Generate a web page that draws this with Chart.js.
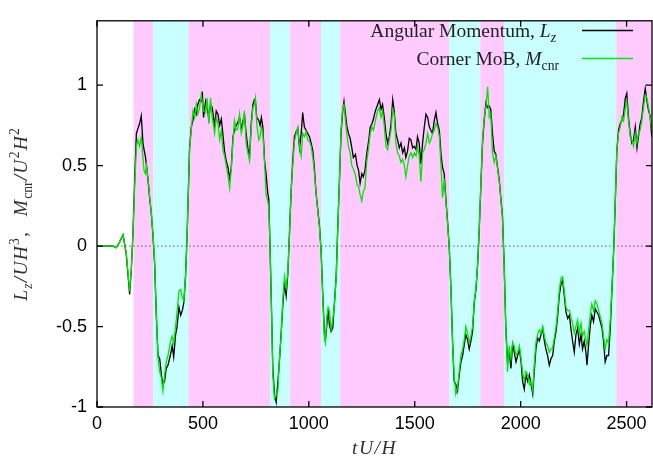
<!DOCTYPE html>
<html>
<head>
<meta charset="utf-8">
<script src="https://cdn.jsdelivr.net/npm/chart.js@4"></script>
<style>
  html, body { margin: 0; padding: 0; background: #fff; }
</style>
</head>
<body>
<canvas id="chart" width="653" height="462"></canvas>
<script>
// time axis (tU/H), shared by both series
const time = [0, 40, 75, 91, 105, 123, 138, 154, 162, 170, 178, 186, 193, 201, 209, 217, 222, 228, 233, 241, 249, 256, 264, 272, 280, 288, 296, 304, 311, 319, 327, 335, 346, 355, 362, 371, 377, 387, 395, 403, 410, 418, 425, 431, 437, 445, 453, 461, 469, 476, 484, 492, 497, 503, 513, 520, 528, 536, 544, 555, 563, 571, 579, 587, 594, 602, 610, 618, 626, 634, 642, 649, 657, 665, 673, 681, 688, 696, 704, 712, 720, 728, 736, 743, 748, 754, 764, 770, 776, 783, 791, 798, 806, 811, 817, 824, 830, 838, 846, 854, 861, 869, 877, 885, 893, 901, 909, 916, 924, 932, 940, 948, 956, 964, 971, 979, 987, 995, 1003, 1011, 1019, 1026, 1034, 1042, 1050, 1058, 1066, 1074, 1078, 1085, 1091, 1097, 1105, 1113, 1121, 1129, 1136, 1144, 1152, 1160, 1166, 1173, 1179, 1187, 1195, 1203, 1210, 1220, 1228, 1235, 1242, 1250, 1257, 1265, 1273, 1283, 1290, 1298, 1305, 1314, 1325, 1333, 1341, 1348, 1356, 1364, 1372, 1380, 1388, 1396, 1403, 1411, 1419, 1427, 1435, 1443, 1451, 1458, 1466, 1474, 1482, 1490, 1498, 1506, 1513, 1521, 1529, 1537, 1545, 1553, 1561, 1569, 1576, 1584, 1592, 1600, 1608, 1616, 1624, 1631, 1639, 1647, 1655, 1663, 1671, 1679, 1686, 1694, 1702, 1710, 1718, 1726, 1734, 1741, 1749, 1757, 1765, 1773, 1781, 1789, 1797, 1804, 1812, 1820, 1828, 1836, 1844, 1852, 1859, 1867, 1875, 1883, 1891, 1899, 1907, 1914, 1922, 1930, 1938, 1946, 1954, 1962, 1970, 1978, 1986, 1994, 2002, 2009, 2017, 2025, 2033, 2041, 2049, 2057, 2064, 2072, 2080, 2088, 2096, 2104, 2112, 2119, 2127, 2135, 2143, 2151, 2159, 2167, 2175, 2182, 2190, 2198, 2206, 2214, 2222, 2230, 2237, 2245, 2253, 2261, 2269, 2277, 2285, 2292, 2300, 2308, 2313, 2321, 2329, 2336, 2344, 2352, 2360, 2368, 2376, 2384, 2391, 2399, 2407, 2415, 2423, 2431, 2439, 2446, 2454, 2462, 2470, 2478, 2486, 2494, 2501, 2509, 2517, 2525, 2533, 2541, 2549, 2556, 2564, 2572, 2580, 2588, 2596, 2604, 2611, 2619];

// angular momentum L_z (black)
const angMom = [0, 0, 0, -0.01, 0.02, 0.07, -0.05, -0.30, -0.15, 0.09, 0.42, 0.70, 0.73, 0.76, 0.81, 0.64, 0.60, 0.56, 0.51, 0.41, 0.29, 0.21, 0.07, -0.11, -0.43, -0.68, -0.70, -0.80, -0.86, -0.84, -0.76, -0.74, -0.68, -0.62, -0.69, -0.55, -0.51, -0.38, -0.43, -0.40, -0.35, -0.19, 0.05, 0.33, 0.61, 0.74, 0.78, 0.85, 0.82, 0.88, 0.91, 0.90, 0.96, 0.80, 0.90, 0.86, 0.79, 0.88, 0.86, 0.75, 0.84, 0.82, 0.75, 0.79, 0.70, 0.59, 0.53, 0.49, 0.42, 0.49, 0.68, 0.72, 0.75, 0.77, 0.80, 0.73, 0.77, 0.82, 0.70, 0.61, 0.55, 0.76, 0.88, 0.91, 0.90, 0.80, 0.78, 0.75, 0.80, 0.74, 0.53, 0.45, 0.33, 0.29, -0.01, -0.41, -0.76, -0.92, -0.97, -0.84, -0.72, -0.55, -0.37, -0.23, -0.31, -0.17, 0.09, 0.33, 0.53, 0.68, 0.71, 0.73, 0.61, 0.70, 0.83, 0.74, 0.72, 0.70, 0.68, 0.64, 0.59, 0.49, 0.33, 0.23, 0.13, -0.03, -0.31, -0.55, -0.59, -0.49, -0.39, -0.49, -0.53, -0.51, -0.35, -0.19, 0.09, 0.39, 0.70, 0.84, 0.90, 0.82, 0.75, 0.70, 0.67, 0.61, 0.55, 0.57, 0.50, 0.47, 0.39, 0.45, 0.43, 0.47, 0.57, 0.66, 0.74, 0.76, 0.79, 0.84, 0.88, 0.91, 0.85, 0.88, 0.80, 0.70, 0.64, 0.68, 0.76, 0.91, 0.84, 0.70, 0.66, 0.61, 0.64, 0.58, 0.61, 0.55, 0.59, 0.67, 0.66, 0.61, 0.62, 0.60, 0.68, 0.64, 0.51, 0.64, 0.74, 0.82, 0.80, 0.74, 0.72, 0.70, 0.78, 0.83, 0.76, 0.72, 0.57, 0.49, 0.45, 0.29, 0.15, -0.01, -0.27, -0.61, -0.84, -0.86, -0.90, -0.80, -0.72, -0.68, -0.61, -0.55, -0.58, -0.64, -0.59, -0.53, -0.35, -0.27, -0.11, 0.09, 0.37, 0.64, 0.78, 0.89, 0.86, 0.87, 0.85, 0.70, 0.59, 0.57, 0.49, 0.41, 0.29, 0.19, -0.11, -0.51, -0.72, -0.66, -0.76, -0.61, -0.66, -0.72, -0.68, -0.64, -0.72, -0.84, -0.89, -0.80, -0.84, -0.80, -0.86, -0.92, -0.78, -0.64, -0.57, -0.59, -0.55, -0.51, -0.59, -0.64, -0.68, -0.74, -0.70, -0.68, -0.59, -0.53, -0.43, -0.31, -0.24, -0.21, -0.31, -0.41, -0.45, -0.43, -0.51, -0.59, -0.66, -0.55, -0.51, -0.61, -0.55, -0.64, -0.59, -0.66, -0.74, -0.61, -0.49, -0.43, -0.47, -0.39, -0.41, -0.43, -0.47, -0.51, -0.59, -0.72, -0.68, -0.68, -0.51, -0.27, -0.03, 0.25, 0.59, 0.72, 0.76, 0.78, 0.82, 0.92, 0.95, 0.80, 0.70, 0.64, 0.66, 0.74, 0.61, 0.68, 0.76, 0.80, 0.90, 0.98, 0.90, 0.84, 0.81, 0.68];

// corner MoB M_cnr (green)
const cornerMob = [0, 0, 0, -0.01, 0.02, 0.07, -0.04, -0.28, -0.14, 0.08, 0.38, 0.62, 0.66, 0.62, 0.68, 0.55, 0.47, 0.45, 0.50, 0.42, 0.30, 0.21, 0.08, -0.10, -0.42, -0.70, -0.78, -0.82, -0.90, -0.80, -0.72, -0.68, -0.60, -0.56, -0.60, -0.50, -0.42, -0.28, -0.27, -0.32, -0.34, -0.18, 0.05, 0.33, 0.60, 0.72, 0.84, 0.80, 0.88, 0.82, 0.86, 0.94, 0.90, 0.84, 0.83, 0.92, 0.76, 0.92, 0.80, 0.70, 0.80, 0.76, 0.66, 0.72, 0.60, 0.56, 0.50, 0.44, 0.36, 0.48, 0.66, 0.78, 0.72, 0.73, 0.82, 0.70, 0.74, 0.84, 0.64, 0.58, 0.53, 0.74, 0.86, 0.88, 0.92, 0.76, 0.66, 0.68, 0.74, 0.70, 0.52, 0.32, 0.28, 0.24, -0.01, -0.42, -0.80, -0.95, -0.93, -0.90, -0.70, -0.56, -0.34, -0.19, -0.26, -0.16, 0.09, 0.33, 0.50, 0.65, 0.70, 0.74, 0.62, 0.56, 0.70, 0.68, 0.71, 0.66, 0.65, 0.62, 0.55, 0.46, 0.33, 0.22, 0.12, -0.04, -0.33, -0.58, -0.60, -0.44, -0.38, -0.40, -0.52, -0.46, -0.36, -0.20, 0.08, 0.38, 0.72, 0.86, 0.88, 0.78, 0.70, 0.62, 0.58, 0.50, 0.48, 0.44, 0.38, 0.37, 0.32, 0.28, 0.34, 0.36, 0.52, 0.62, 0.70, 0.74, 0.72, 0.78, 0.84, 0.86, 0.80, 0.84, 0.75, 0.62, 0.60, 0.66, 0.72, 0.85, 0.82, 0.64, 0.58, 0.56, 0.52, 0.54, 0.50, 0.43, 0.50, 0.56, 0.58, 0.55, 0.58, 0.56, 0.62, 0.56, 0.40, 0.58, 0.60, 0.64, 0.70, 0.64, 0.66, 0.70, 0.72, 0.76, 0.74, 0.68, 0.50, 0.30, 0.42, 0.28, 0.14, -0.01, -0.28, -0.62, -0.80, -0.92, -0.88, -0.78, -0.68, -0.64, -0.58, -0.50, -0.54, -0.60, -0.56, -0.50, -0.34, -0.26, -0.11, 0.09, 0.38, 0.66, 0.80, 0.86, 0.99, 0.80, 0.82, 0.58, 0.52, 0.56, 0.48, 0.40, 0.28, 0.18, -0.12, -0.52, -0.78, -0.62, -0.70, -0.60, -0.62, -0.68, -0.66, -0.62, -0.70, -0.78, -0.84, -0.78, -0.80, -0.86, -0.84, -0.90, -0.74, -0.60, -0.55, -0.52, -0.54, -0.50, -0.56, -0.60, -0.62, -0.66, -0.64, -0.63, -0.57, -0.50, -0.40, -0.28, -0.20, -0.19, -0.28, -0.38, -0.40, -0.40, -0.44, -0.48, -0.54, -0.50, -0.46, -0.54, -0.48, -0.56, -0.53, -0.58, -0.62, -0.52, -0.42, -0.36, -0.40, -0.34, -0.36, -0.40, -0.44, -0.48, -0.56, -0.64, -0.58, -0.60, -0.46, -0.26, -0.03, 0.25, 0.60, 0.70, 0.74, 0.80, 0.78, 0.86, 0.90, 0.78, 0.68, 0.66, 0.62, 0.70, 0.64, 0.70, 0.72, 0.78, 0.86, 0.94, 0.92, 0.86, 0.80, 0.72];

// shaded intervals (p = pink, c = cyan)
const bandStart = [172, 266, 432, 817, 912, 1058, 1148, 1663, 1809, 1922, 2451];
const bandEnd = [266, 432, 817, 912, 1058, 1148, 1663, 1809, 1922, 2451, 2620];
const bandKind = ['p', 'c', 'p', 'c', 'p', 'c', 'p', 'c', 'p', 'c', 'p'];

const xTicks = [0, 500, 1000, 1500, 2000, 2500];
const yTicks = [-1, -0.5, 0, 0.5, 1];

// legend / axis title pieces (it = italic, pos = sub/sup)
const legendAng = [{ t: 'Angular Momentum, ' }, { t: 'L', it: 1 }, { t: 'z', it: 1, pos: 'sub' }];
const legendMob = [{ t: 'Corner MoB, ' }, { t: 'M', it: 1 }, { t: 'cnr', pos: 'sub' }];
const yTitle = [
    { t: 'L', it: 1 }, { t: 'z', it: 1, pos: 'sub' }, { t: '/', it: 1 }, { t: 'U', it: 1 }, { t: 'H', it: 1 }, { t: '3', pos: 'sup' },
    { t: ',   ' }, { t: 'M', it: 1 }, { t: 'cnr', pos: 'sub' }, { t: '/', it: 1 }, { t: 'U', it: 1 }, { t: '2', pos: 'sup' },
    { t: 'H', it: 1 }, { t: '2', pos: 'sup' }
];
const xTitle = [{ t: 't', it: 1 }, { t: 'U', it: 1 }, { t: '/', it: 1 }, { t: 'H', it: 1 }];

const PINK = '#ffcbff';
const CYAN = '#c9ffff';
const SERIF = '"Liberation Serif", "DejaVu Serif", serif';
const SANS = '"Liberation Sans", Arial, sans-serif';

function segFont(s, size) {
    const sz = s.pos ? size * 0.7 : size;
    return (s.it ? 'italic ' : '') + sz + 'px ' + SERIF;
}

function richWidth(ctx, segs, size, gap) {
    let w = 0;
    for (const s of segs) {
        ctx.font = segFont(s, size);
        w += ctx.measureText(s.t).width + (gap || 0);
    }
    return w;
}

function drawRich(ctx, segs, x, y, size, gap) {
    let cx = x;
    for (const s of segs) {
        ctx.font = segFont(s, size);
        let dy = 0;
        if (s.pos === 'sub') dy = size * 0.25;
        if (s.pos === 'sup') dy = -size * 0.4;
        ctx.fillText(s.t, cx, y + dy);
        cx += ctx.measureText(s.t).width + (gap || 0);
    }
}

const backgroundPlugin = {
    id: 'bands',
    beforeDatasetsDraw(chart) {
        const { ctx, chartArea, scales } = chart;
        ctx.save();
        for (let i = 0; i < bandStart.length; i++) {
            const x0 = scales.x.getPixelForValue(bandStart[i]);
            const x1 = scales.x.getPixelForValue(Math.min(bandEnd[i], scales.x.max));
            ctx.fillStyle = bandKind[i] === 'p' ? PINK : CYAN;
            ctx.fillRect(x0, chartArea.top, x1 - x0, chartArea.bottom - chartArea.top);
        }
        // dotted zero axis
        const y0 = scales.y.getPixelForValue(0);
        ctx.strokeStyle = '#777';
        ctx.lineWidth = 1.2;
        ctx.setLineDash([1.5, 2.5]);
        ctx.beginPath();
        ctx.moveTo(chartArea.left, y0);
        ctx.lineTo(chartArea.right, y0);
        ctx.stroke();
        ctx.restore();
    }
};

const framePlugin = {
    id: 'frame',
    afterDraw(chart) {
        const { ctx, chartArea: a, scales } = chart;
        ctx.save();
        ctx.strokeStyle = '#000';
        ctx.lineWidth = 1.3;
        ctx.strokeRect(a.left, a.top, a.right - a.left, a.bottom - a.top);
        // inward ticks on all four sides
        const tl = 6;
        ctx.beginPath();
        for (const v of xTicks) {
            const px = scales.x.getPixelForValue(v);
            ctx.moveTo(px, a.bottom); ctx.lineTo(px, a.bottom - tl);
            ctx.moveTo(px, a.top); ctx.lineTo(px, a.top + tl);
        }
        for (const v of yTicks) {
            const py = scales.y.getPixelForValue(v);
            ctx.moveTo(a.left, py); ctx.lineTo(a.left + tl, py);
            ctx.moveTo(a.right, py); ctx.lineTo(a.right - tl, py);
        }
        ctx.stroke();

        // legend
        const ds = chart.data.datasets;
        const rows = [
            { segs: legendAng, color: ds[0].borderColor, y: 37, right: 556 },
            { segs: legendMob, color: ds[1].borderColor, y: 65, right: 559 }
        ];
        ctx.fillStyle = '#222';
        ctx.textBaseline = 'alphabetic';
        for (const r of rows) {
            const w = richWidth(ctx, r.segs, 19.5);
            drawRich(ctx, r.segs, r.right - w, r.y, 19.5);
            ctx.strokeStyle = r.color;
            ctx.lineWidth = 1.3;
            ctx.beginPath();
            ctx.moveTo(582, r.y - 6.5);
            ctx.lineTo(633, r.y - 6.5);
            ctx.stroke();
        }

        // axis titles
        ctx.fillStyle = '#333';
        const xw = richWidth(ctx, xTitle, 19.5, 1.5);
        drawRich(ctx, xTitle, (a.left + a.right) / 2 - xw / 2, 454, 19.5, 1.5);

        ctx.translate(27, (a.top + a.bottom) / 2);
        ctx.rotate(-Math.PI / 2);
        const yw = richWidth(ctx, yTitle, 19.5, 1.2);
        drawRich(ctx, yTitle, -yw / 2, 0, 19.5, 1.2);
        ctx.restore();
    }
};

const points = (ys) => time.map((t, i) => ({ x: t, y: ys[i] }));

new Chart(document.getElementById('chart').getContext('2d'), {
    type: 'line',
    data: {
        datasets: [
            { label: 'Angular Momentum, L_z', data: points(angMom), borderColor: '#000000', borderWidth: 1.3, pointRadius: 0, tension: 0, order: 1 },
            { label: 'Corner MoB, M_cnr', data: points(cornerMob), borderColor: '#00e600', borderWidth: 1.3, pointRadius: 0, tension: 0, order: 0 }
        ]
    },
    options: {
        responsive: false,
        animation: false,
        devicePixelRatio: 1,
        layout: { padding: { top: 10, right: 1, left: 0, bottom: 0 } },
        plugins: { legend: { display: false }, tooltip: { enabled: false } },
        scales: {
            x: {
                type: 'linear', min: 0, max: 2620,
                afterBuildTicks: (s) => { s.ticks = xTicks.map(v => ({ value: v })); },
                afterFit: (s) => { s.height = 55; },
                ticks: { callback: (v) => String(v), color: '#000', font: { family: SANS, size: 18 }, padding: 6, maxRotation: 0, autoSkip: false },
                grid: { display: false, drawTicks: false },
                border: { display: false }
            },
            y: {
                type: 'linear', min: -1, max: 1.4,
                afterBuildTicks: (s) => { s.ticks = yTicks.map(v => ({ value: v })); },
                afterFit: (s) => { s.width = 97; },
                ticks: { callback: (v) => String(v), color: '#000', font: { family: SANS, size: 18 }, padding: 10, autoSkip: false },
                grid: { display: false, drawTicks: false },
                border: { display: false }
            }
        }
    },
    plugins: [backgroundPlugin, framePlugin]
});
</script>
</body>
</html>
